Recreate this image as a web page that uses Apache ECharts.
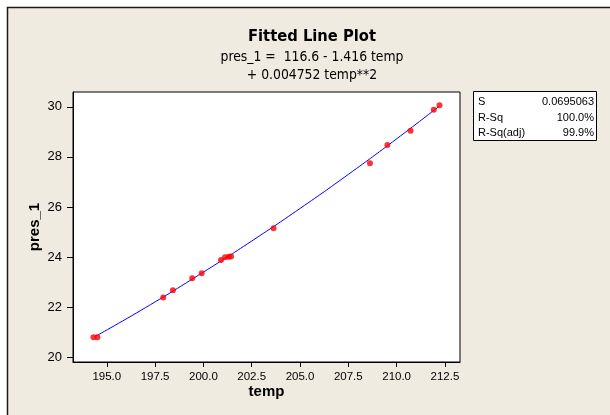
<!DOCTYPE html>
<html>
<head>
<meta charset="utf-8">
<script src="https://cdn.jsdelivr.net/npm/echarts@6/dist/echarts.min.js"></script>
<style>
html,body{margin:0;padding:0;background:#fff;}
#chart{width:610px;height:415px;}
</style>
</head>
<body>
<div id="chart"></div>
<script>
var temp = [194.31, 194.51, 197.92, 198.42, 199.42, 199.91, 200.91, 201.12, 201.31, 201.43, 203.63, 208.62, 209.52, 210.72, 211.92, 212.22];
var pres = [20.80, 20.80, 22.39, 22.67, 23.15, 23.35, 23.88, 23.99, 24.01, 24.02, 25.15, 27.75, 28.47, 29.04, 29.88, 30.06];
// Fitted curve, points
var fitTemp = [194.4, 197.0, 200.0, 202.5, 205.0, 207.5, 210.0, 212.2];
var fitPres = [20.83, 21.98, 23.40, 24.64, 25.94, 27.30, 28.72, 30.02];
// Tick labels
var xTicks = [195.0, 197.5, 200.0, 202.5, 205.0, 207.5, 210.0, 212.5];
var yTicks = [20, 22, 24, 26, 28, 30];
// Texts
var titleText = 'Fitted Line Plot';
var eqLine1 = 'pres_1 =  116.6 - 1.416 temp';
var eqLine2 = '+ 0.004752 temp**2';
var statNames = ['S', 'R-Sq', 'R-Sq(adj)'];
var statValues = ['0.0695063', '100.0%', '99.9%'];
var xName = 'temp';
var yName = 'pres_1';

var chart = echarts.init(document.getElementById('chart'), null, {renderer: 'canvas'});

var tickFont = '"Liberation Sans", Arial, sans-serif';
var titleFont = '"DejaVu Sans Condensed", "DejaVu Sans", sans-serif';

var scatterData = temp.map(function (t, i) { return [t, pres[i]]; });
var fitData = fitTemp.map(function (t, i) { return [t, fitPres[i]]; });

var graphics = [
  {type: 'rect', silent: true, z: -10, shape: {x: 7.5, y: 7.5, width: 700, height: 500},
   style: {fill: '#efebe1', stroke: '#1a1a1a', lineWidth: 1.5}},
  {type: 'text', x: 312, y: 37, style: {text: titleText, fill: '#000', textAlign: 'center', textVerticalAlign: 'middle',
    font: 'bold 16.4px ' + titleFont}},
  {type: 'text', x: 312, y: 57, style: {text: eqLine1, fill: '#000', textAlign: 'center', textVerticalAlign: 'middle',
    font: '13.8px ' + titleFont}},
  {type: 'text', x: 312, y: 75, style: {text: eqLine2, fill: '#000', textAlign: 'center', textVerticalAlign: 'middle',
    font: '13.8px ' + titleFont}},
  {type: 'text', x: 266.5, y: 392, style: {text: xName, fill: '#000', textAlign: 'center', textVerticalAlign: 'middle',
    font: 'bold 15px "Liberation Sans", sans-serif'}},
  {type: 'text', x: 35, y: 227, rotation: Math.PI / 2, style: {text: yName, fill: '#000', textAlign: 'center', textVerticalAlign: 'middle',
    font: 'bold 15px "Liberation Sans", sans-serif'}},
  {type: 'rect', shape: {x: 473.5, y: 91.5, width: 123, height: 49},
   style: {fill: '#fff', stroke: '#000', lineWidth: 1}}
];
var rowY = [102, 117.5, 133];
statNames.forEach(function (n, i) {
  graphics.push({type: 'text', x: 478, y: rowY[i], style: {text: n, fill: '#000', textAlign: 'left', textVerticalAlign: 'middle',
    font: '11px ' + tickFont}});
  graphics.push({type: 'text', x: 594, y: rowY[i], style: {text: statValues[i], fill: '#000', textAlign: 'right', textVerticalAlign: 'middle',
    font: '11px ' + tickFont}});
});

var option = {
  backgroundColor: '#fff',
  animation: false,
  grid: {left: 73, right: 150, top: 92, bottom: 53, show: true, backgroundColor: '#fff', borderColor: '#000', borderWidth: 1},
  xAxis: {
    type: 'value', min: 193.25, max: 213.28,
    splitLine: {show: false},
    axisLine: {show: true, onZero: false, lineStyle: {color: '#000', width: 1}},
    axisTick: {show: true, length: 5, customValues: xTicks, lineStyle: {color: '#000'}},
    axisLabel: {customValues: xTicks, margin: 9, color: '#000', fontSize: 11.5, fontFamily: tickFont,
      formatter: function (v) { return v.toFixed(1); }}
  },
  yAxis: {
    type: 'value', min: 19.81, max: 30.59,
    splitLine: {show: false},
    axisLine: {show: true, onZero: false, lineStyle: {color: '#000', width: 1}},
    axisTick: {show: true, length: 6, customValues: yTicks, lineStyle: {color: '#000'}},
    axisLabel: {customValues: yTicks, margin: 11, color: '#000', fontSize: 13, fontFamily: tickFont,
      formatter: function (v) { return String(Math.round(v)); }}
  },
  series: [
    {type: 'line', data: fitData, smooth: true, showSymbol: false, silent: true,
     lineStyle: {color: '#0000ff', width: 1}, z: 2},
    {type: 'scatter', data: scatterData, symbol: 'circle', symbolSize: 6,
     itemStyle: {color: '#ff0000'}, z: 3}
  ],
  graphic: graphics
};
chart.setOption(option);
</script>
</body>
</html>
